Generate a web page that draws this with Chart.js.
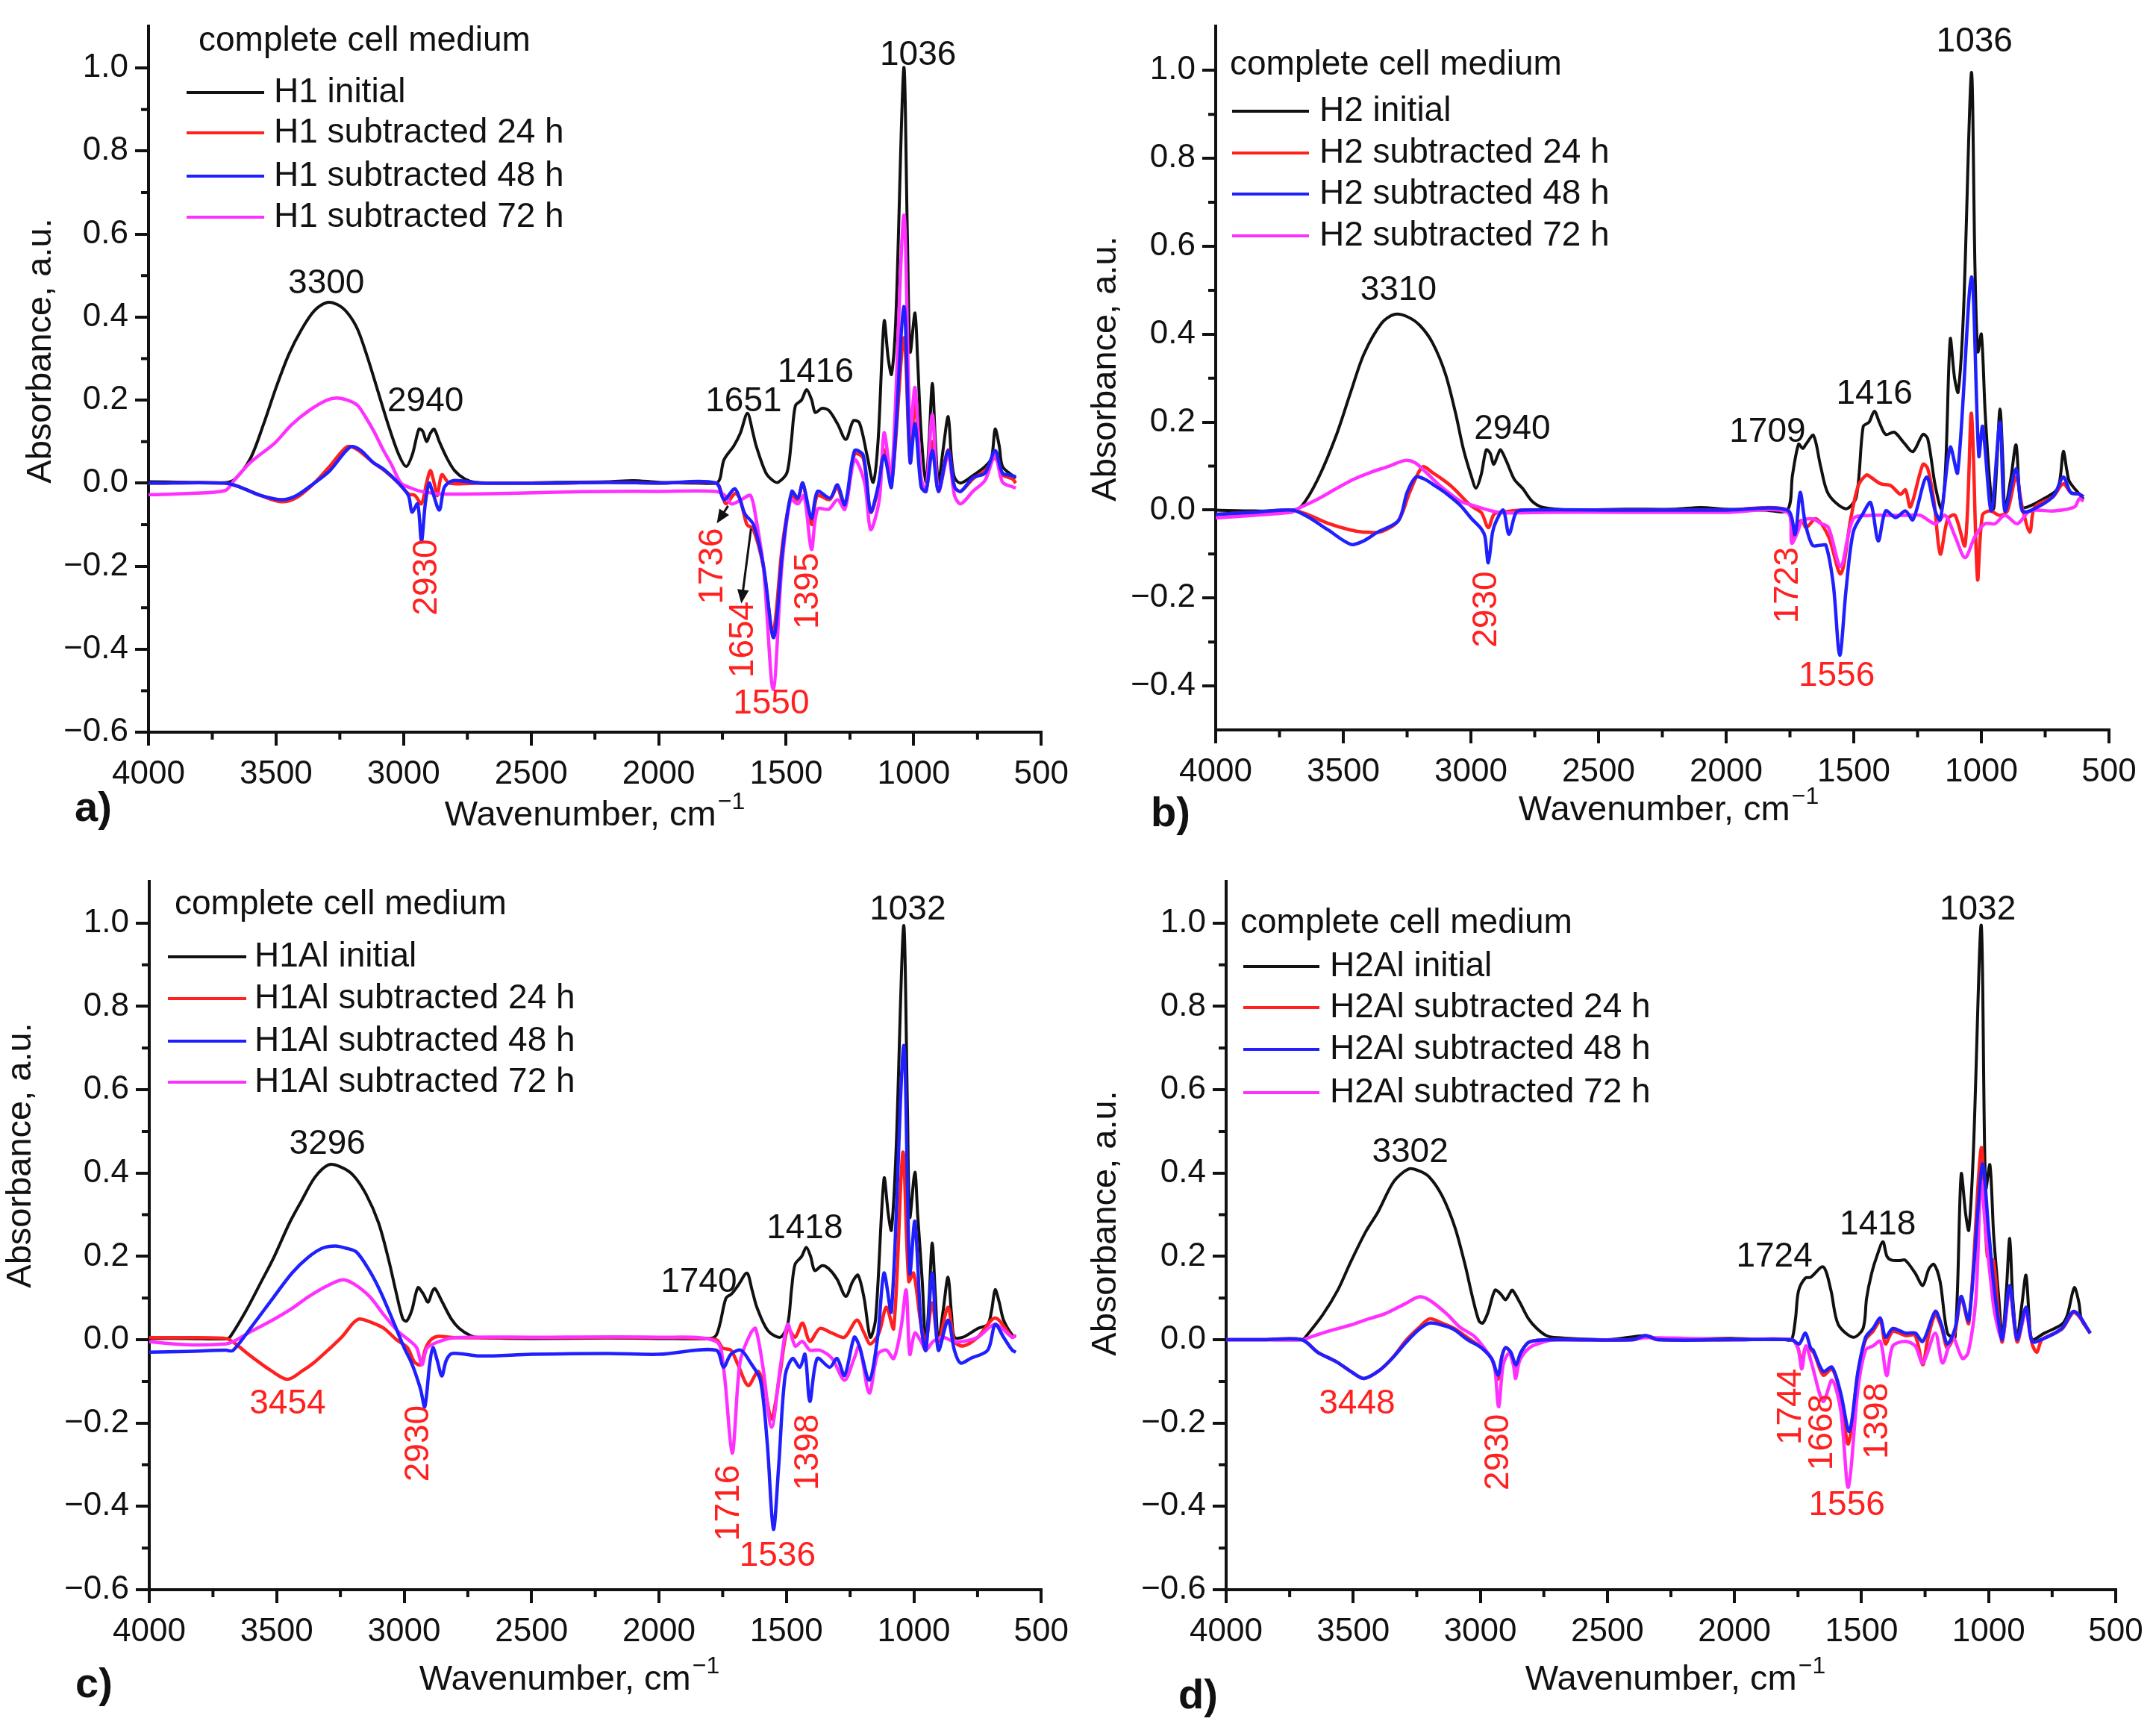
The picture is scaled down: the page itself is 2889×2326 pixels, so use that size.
<!DOCTYPE html>
<html>
<head>
<meta charset="utf-8">
<script src="https://cdn.jsdelivr.net/npm/chart.js@4.4.1/dist/chart.umd.min.js"></script>
<style>
  html, body { margin: 0; padding: 0; background: #fff; }
  body { width: 2889px; height: 2326px; position: relative; overflow: hidden; }
  .panel { position: absolute; }
  #pa { left: 0; top: 0; width: 1444px; height: 1140px; }
  #pb { left: 1444px; top: 0; width: 1445px; height: 1140px; }
  #pc { left: 0; top: 1140px; width: 1444px; height: 1186px; }
  #pd { left: 1444px; top: 1140px; width: 1445px; height: 1186px; }
</style>
</head>
<body>
<div class="panel" id="pa"><canvas id="ca"></canvas></div>
<div class="panel" id="pb"><canvas id="cb"></canvas></div>
<div class="panel" id="pc"><canvas id="cc"></canvas></div>
<div class="panel" id="pd"><canvas id="cd"></canvas></div>
<script>
// ---- axis ticks ----
const xMajor = [4000, 3500, 3000, 2500, 2000, 1500, 1000, 500];
const xMinor = [3750, 3250, 2750, 2250, 1750, 1250, 750];
const yMajor = [-0.6, -0.4, -0.2, 0.0, 0.2, 0.4, 0.6, 0.8, 1.0];
const yMajorB = [-0.4, -0.2, 0.0, 0.2, 0.4, 0.6, 0.8, 1.0];
const yMinor = [-0.5, -0.3, -0.1, 0.1, 0.3, 0.5, 0.7, 0.9];
const yMinorB = [-0.3, -0.1, 0.1, 0.3, 0.5, 0.7, 0.9];

// ---- series names ----
const namesA = ['H1 initial', 'H1 subtracted 24 h', 'H1 subtracted 48 h', 'H1 subtracted 72 h'];
const namesB = ['H2 initial', 'H2 subtracted 24 h', 'H2 subtracted 48 h', 'H2 subtracted 72 h'];
const namesC = ['H1Al initial', 'H1Al subtracted 24 h', 'H1Al subtracted 48 h', 'H1Al subtracted 72 h'];
const namesD = ['H2Al initial', 'H2Al subtracted 24 h', 'H2Al subtracted 48 h', 'H2Al subtracted 72 h'];

// ---- spectra: [wavenumber, absorbance] ----
const aInitial = [[4000,0.003],[3850,0.002],[3700,0.001],[3660,0.01],[3600,0.06],[3550,0.14],[3500,0.23],[3450,0.31],[3400,0.37],[3350,0.415],[3300,0.435],[3260,0.43],[3220,0.41],[3180,0.37],[3140,0.3],[3100,0.22],[3060,0.14],[3020,0.07],[2990,0.04],[2965,0.07],[2940,0.13],[2925,0.125],[2910,0.1],[2895,0.12],[2880,0.13],[2860,0.1],[2830,0.06],[2800,0.03],[2760,0.01],[2720,0.002],[2600,0.0],[2400,0.002],[2200,0.003],[2100,0.006],[2000,0.002],[1850,0.0],[1775,0.0],[1760,0.01],[1744,0.056],[1705,0.09],[1680,0.12],[1652,0.168],[1630,0.12],[1618,0.09],[1580,0.025],[1550,0.005],[1531,0.002],[1497,0.025],[1480,0.1],[1464,0.186],[1440,0.2],[1420,0.225],[1400,0.2],[1386,0.17],[1360,0.18],[1333,0.175],[1299,0.143],[1266,0.105],[1237,0.15],[1213,0.145],[1183,0.067],[1159,0.002],[1140,0.1],[1116,0.39],[1100,0.3],[1087,0.262],[1070,0.4],[1039,1.0],[1025,0.6],[1014,0.316],[995,0.41],[985,0.3],[971,0.121],[952,0.002],[940,0.1],[927,0.24],[915,0.1],[903,0.002],[885,0.08],[865,0.16],[852,0.06],[840,0.013],[816,0.0],[768,0.018],[720,0.04],[695,0.06],[681,0.13],[665,0.09],[652,0.04],[613,0.018],[600,0.012]];
const aSub24 = [[4000,0.0],[3700,0.0],[3640,-0.01],[3560,-0.03],[3480,-0.045],[3420,-0.035],[3350,0.0],[3290,0.04],[3220,0.088],[3180,0.08],[3120,0.05],[3075,0.03],[3020,0.0],[2981,-0.026],[2955,-0.03],[2930,-0.05],[2910,0.0],[2895,0.03],[2880,0.0],[2868,-0.03],[2850,0.02],[2820,0.0],[2700,0.0],[2400,0.0],[2200,0.002],[2000,0.0],[1775,0.0],[1750,-0.03],[1736,-0.05],[1700,-0.025],[1680,-0.04],[1654,-0.1],[1630,-0.11],[1590,-0.2],[1552,-0.36],[1515,-0.15],[1480,-0.03],[1455,-0.04],[1435,0.0],[1400,-0.1],[1378,-0.03],[1330,-0.04],[1300,-0.01],[1270,-0.06],[1232,0.07],[1198,0.06],[1169,-0.07],[1140,-0.015],[1116,0.08],[1087,0.0],[1039,0.35],[1014,0.05],[995,0.2],[971,0.0],[952,-0.02],[927,0.1],[903,-0.02],[865,0.08],[840,-0.01],[816,-0.02],[768,0.01],[720,0.03],[681,0.06],[652,0.02],[613,0.01],[600,0.0]];
const aSub48 = [[4000,0.0],[3700,0.0],[3640,-0.01],[3560,-0.03],[3477,-0.04],[3420,-0.03],[3350,0.0],[3289,0.03],[3209,0.087],[3170,0.08],[3120,0.05],[3075,0.032],[3020,0.0],[2981,-0.03],[2967,-0.07],[2945,-0.05],[2930,-0.14],[2915,-0.05],[2900,0.0],[2887,-0.02],[2860,-0.065],[2840,-0.01],[2806,0.006],[2700,0.0],[2400,0.0],[2200,0.002],[2000,0.0],[1775,0.0],[1744,-0.04],[1700,-0.014],[1662,-0.074],[1628,-0.1],[1589,-0.2],[1549,-0.372],[1512,-0.15],[1478,-0.02],[1454,-0.036],[1435,0.0],[1401,-0.085],[1377,-0.02],[1328,-0.036],[1299,-0.004],[1270,-0.052],[1232,0.078],[1198,0.067],[1169,-0.069],[1140,-0.009],[1116,0.067],[1087,-0.009],[1039,0.425],[1014,0.05],[995,0.143],[971,-0.009],[952,-0.02],[927,0.078],[903,-0.02],[865,0.078],[840,-0.009],[816,-0.02],[768,0.013],[720,0.024],[681,0.078],[652,0.024],[613,0.018],[600,0.015]];
const aSub72 = [[4000,-0.028],[3850,-0.025],[3700,-0.018],[3665,0.006],[3600,0.05],[3504,0.097],[3440,0.14],[3370,0.175],[3300,0.2],[3262,0.205],[3220,0.2],[3182,0.188],[3150,0.16],[3115,0.123],[3080,0.08],[3048,0.045],[3010,0.0],[2967,-0.013],[2930,-0.02],[2860,-0.026],[2700,-0.026],[2400,-0.022],[2200,-0.02],[2000,-0.02],[1775,-0.02],[1740,-0.03],[1715,-0.05],[1676,-0.04],[1640,-0.03],[1620,-0.08],[1589,-0.204],[1551,-0.497],[1517,-0.2],[1483,-0.04],[1454,-0.05],[1430,-0.03],[1401,-0.16],[1377,-0.063],[1333,-0.063],[1299,-0.04],[1270,-0.063],[1232,0.056],[1193,0.002],[1169,-0.112],[1135,-0.04],[1116,0.121],[1087,0.013],[1039,0.645],[1014,0.121],[995,0.23],[971,0.013],[952,-0.02],[927,0.165],[903,-0.02],[865,0.067],[840,-0.03],[816,-0.05],[768,-0.02],[720,0.007],[681,0.067],[652,0.002],[613,-0.009],[600,-0.012]];

const bInitial = [[4000,0.0],[3850,-0.002],[3700,0.0],[3662,0.01],[3600,0.07],[3527,0.171],[3470,0.27],[3419,0.355],[3350,0.425],[3300,0.445],[3250,0.44],[3200,0.42],[3150,0.38],[3100,0.31],[3060,0.22],[3030,0.14],[3000,0.08],[2980,0.05],[2960,0.08],[2940,0.137],[2925,0.13],[2911,0.104],[2895,0.125],[2884,0.137],[2860,0.11],[2830,0.07],[2797,0.049],[2760,0.02],[2716,0.006],[2600,0.0],[2400,0.002],[2200,0.002],[2100,0.006],[2000,0.002],[1850,0.0],[1760,0.0],[1740,0.08],[1716,0.15],[1700,0.14],[1687,0.15],[1658,0.17],[1630,0.1],[1599,0.036],[1531,0.003],[1490,0.03],[1463,0.19],[1440,0.2],[1419,0.225],[1400,0.2],[1375,0.172],[1341,0.177],[1302,0.152],[1268,0.133],[1229,0.172],[1210,0.162],[1181,0.056],[1156,0.003],[1140,0.1],[1122,0.389],[1105,0.3],[1091,0.268],[1070,0.45],[1039,0.995],[1025,0.55],[1014,0.36],[1000,0.4],[985,0.22],[966,0.056],[952,0.003],[940,0.1],[927,0.23],[915,0.1],[908,0.003],[885,0.07],[864,0.148],[845,0.007],[820,0.007],[752,0.027],[700,0.05],[679,0.133],[665,0.09],[655,0.065],[616,0.036],[600,0.025]];
const bSub24 = [[4000,-0.01],[3850,-0.005],[3700,0.0],[3640,-0.01],[3560,-0.03],[3473,-0.045],[3420,-0.05],[3351,-0.049],[3284,-0.024],[3240,0.04],[3190,0.098],[3150,0.085],[3100,0.065],[3067,0.049],[3000,0.01],[2959,-0.006],[2932,-0.04],[2910,-0.01],[2880,-0.005],[2800,0.0],[2400,0.0],[2000,0.0],[1760,0.0],[1743,-0.065],[1720,-0.03],[1702,-0.024],[1687,-0.04],[1648,-0.02],[1599,-0.06],[1551,-0.145],[1512,-0.02],[1482,0.056],[1450,0.08],[1434,0.075],[1395,0.06],[1356,0.056],[1317,0.036],[1297,0.046],[1278,0.007],[1229,0.104],[1210,0.094],[1185,0.017],[1161,-0.1],[1132,-0.02],[1103,-0.012],[1064,-0.08],[1039,0.22],[1015,-0.157],[996,-0.012],[966,-0.002],[927,-0.012],[898,-0.002],[864,0.075],[840,0.007],[810,-0.05],[791,0.007],[720,0.03],[679,0.06],[650,0.04],[616,0.036],[600,0.03]];
const bSub48 = [[4000,-0.01],[3850,-0.005],[3700,0.0],[3640,-0.015],[3560,-0.045],[3470,-0.078],[3420,-0.07],[3365,-0.05],[3284,-0.024],[3250,0.04],[3216,0.075],[3180,0.07],[3140,0.055],[3095,0.037],[3040,0.01],[3000,-0.018],[2959,-0.043],[2945,-0.06],[2932,-0.12],[2915,-0.05],[2900,-0.024],[2873,0.0],[2851,-0.055],[2824,-0.006],[2800,0.0],[2400,0.0],[2000,0.0],[1760,0.0],[1730,-0.055],[1710,0.04],[1690,-0.03],[1662,-0.08],[1630,-0.08],[1609,-0.08],[1580,-0.17],[1555,-0.33],[1530,-0.18],[1502,-0.05],[1463,-0.007],[1434,0.017],[1404,-0.07],[1375,-0.002],[1336,-0.017],[1297,-0.002],[1268,-0.022],[1215,0.075],[1181,-0.002],[1161,-0.022],[1122,0.143],[1093,0.085],[1039,0.53],[1010,0.123],[995,0.19],[961,-0.002],[927,0.2],[908,-0.002],[864,0.094],[840,-0.002],[810,-0.002],[720,0.03],[679,0.075],[650,0.04],[616,0.036],[600,0.03]];
const bSub72 = [[4000,-0.018],[3850,-0.012],[3700,-0.005],[3689,0.0],[3600,0.025],[3527,0.049],[3460,0.07],[3392,0.086],[3320,0.1],[3257,0.113],[3220,0.108],[3176,0.086],[3130,0.06],[3081,0.037],[3040,0.02],[3000,0.012],[2932,0.0],[2878,-0.006],[2700,-0.005],[2400,-0.005],[2000,-0.005],[1760,-0.005],[1743,-0.075],[1720,-0.05],[1702,-0.024],[1660,-0.02],[1630,-0.03],[1599,-0.04],[1551,-0.128],[1502,-0.02],[1434,-0.012],[1375,-0.012],[1297,-0.012],[1239,-0.012],[1181,-0.031],[1142,-0.012],[1103,-0.06],[1064,-0.108],[1025,-0.06],[986,-0.031],[947,-0.031],[908,-0.012],[859,-0.031],[810,-0.002],[713,-0.002],[635,0.007],[616,0.026],[600,0.02]];

const cInitial = [[4000,0.003],[3850,0.003],[3700,0.002],[3685,0.005],[3620,0.07],[3560,0.14],[3511,0.198],[3450,0.28],[3403,0.333],[3350,0.39],[3296,0.42],[3250,0.415],[3200,0.395],[3150,0.35],[3100,0.28],[3060,0.19],[3030,0.11],[3005,0.05],[2990,0.045],[2970,0.07],[2946,0.125],[2925,0.11],[2906,0.09],[2890,0.115],[2879,0.123],[2850,0.09],[2815,0.05],[2785,0.028],[2740,0.01],[2704,0.005],[2500,0.003],[2200,0.004],[2000,0.003],[1800,0.003],[1776,0.01],[1760,0.04],[1737,0.1],[1715,0.11],[1690,0.13],[1655,0.16],[1635,0.12],[1616,0.078],[1573,0.022],[1524,0.006],[1495,0.037],[1480,0.12],[1466,0.181],[1440,0.2],[1422,0.222],[1405,0.2],[1389,0.166],[1360,0.178],[1335,0.171],[1301,0.145],[1267,0.104],[1240,0.14],[1219,0.155],[1195,0.099],[1171,0.006],[1150,0.05],[1117,0.387],[1100,0.3],[1088,0.263],[1070,0.45],[1040,0.994],[1025,0.55],[1016,0.294],[996,0.402],[985,0.3],[967,0.14],[953,-0.015],[940,0.1],[928,0.232],[915,0.1],[904,-0.004],[885,0.07],[866,0.15],[852,0.06],[841,0.006],[807,0.006],[749,0.027],[710,0.037],[695,0.07],[681,0.12],[665,0.09],[648,0.047],[614,0.011],[600,0.008]];
const cSub24 = [[4000,0.005],[3850,0.005],[3700,0.003],[3672,-0.005],[3600,-0.04],[3520,-0.075],[3457,-0.095],[3400,-0.075],[3350,-0.053],[3290,-0.02],[3242,0.008],[3200,0.04],[3175,0.05],[3130,0.042],[3081,0.028],[3030,0.0],[2987,-0.019],[2960,-0.053],[2935,-0.06],[2915,-0.02],[2895,0.0],[2866,0.008],[2800,0.005],[2500,0.005],[2000,0.005],[1776,0.0],[1750,-0.02],[1718,-0.025],[1690,-0.06],[1650,-0.11],[1611,-0.076],[1585,-0.12],[1558,-0.19],[1525,-0.08],[1495,0.027],[1466,0.006],[1437,0.04],[1408,-0.004],[1369,0.027],[1321,0.016],[1272,0.006],[1224,0.047],[1195,0.016],[1171,-0.01],[1137,0.016],[1108,0.078],[1079,0.027],[1043,0.45],[1020,0.14],[1001,0.16],[972,0.037],[953,-0.004],[928,0.089],[904,-0.004],[866,0.078],[841,-0.004],[807,-0.015],[749,0.006],[681,0.052],[614,0.006],[600,0.01]];
const cSub48 = [[4000,-0.03],[3850,-0.028],[3700,-0.025],[3672,-0.026],[3600,0.03],[3511,0.103],[3440,0.16],[3376,0.198],[3320,0.22],[3269,0.225],[3230,0.22],[3188,0.211],[3140,0.17],[3094,0.117],[3040,0.04],[3000,-0.019],[2975,-0.05],[2960,-0.073],[2935,-0.12],[2919,-0.161],[2900,-0.06],[2887,-0.019],[2870,-0.05],[2852,-0.087],[2835,-0.05],[2812,-0.033],[2704,-0.039],[2500,-0.035],[2200,-0.033],[2000,-0.035],[1776,-0.025],[1747,-0.066],[1718,-0.035],[1679,-0.025],[1640,-0.056],[1602,-0.097],[1575,-0.25],[1551,-0.455],[1530,-0.3],[1505,-0.086],[1476,-0.045],[1447,-0.066],[1427,-0.035],[1408,-0.148],[1379,-0.045],[1330,-0.066],[1301,-0.045],[1272,-0.086],[1234,0.006],[1214,-0.015],[1175,-0.097],[1142,0.006],[1117,0.16],[1088,0.068],[1040,0.706],[1016,0.16],[996,0.284],[972,0.037],[953,-0.025],[928,0.16],[904,-0.025],[866,0.047],[841,-0.025],[817,-0.056],[778,-0.045],[710,-0.025],[681,0.037],[648,0.006],[614,-0.025],[600,-0.03]];
const cSub72 = [[4000,-0.005],[3850,-0.012],[3700,-0.01],[3672,-0.005],[3600,0.02],[3511,0.049],[3440,0.075],[3376,0.103],[3300,0.13],[3242,0.144],[3200,0.135],[3134,0.103],[3080,0.06],[3027,0.022],[2973,-0.005],[2950,-0.02],[2930,-0.06],[2910,-0.02],[2866,-0.005],[2800,0.005],[2500,0.006],[2000,0.006],[1776,-0.004],[1747,-0.066],[1713,-0.272],[1690,-0.1],[1679,-0.045],[1640,0.016],[1621,0.027],[1592,-0.066],[1558,-0.21],[1524,-0.066],[1495,0.037],[1466,-0.015],[1437,-0.004],[1408,-0.025],[1369,-0.025],[1321,-0.045],[1272,-0.097],[1234,-0.045],[1214,-0.015],[1175,-0.128],[1142,-0.035],[1108,-0.025],[1079,-0.045],[1050,0.03],[1030,0.119],[1016,-0.035],[996,0.016],[972,-0.004],[953,-0.025],[924,-0.004],[885,0.006],[846,-0.004],[807,-0.004],[749,0.006],[681,0.037],[614,0.006],[600,0.01]];

const dInitial = [[4000,0.0],[3850,0.0],[3700,0.0],[3690,0.005],[3620,0.06],[3560,0.12],[3512,0.184],[3450,0.26],[3403,0.306],[3340,0.38],[3281,0.41],[3240,0.405],[3200,0.39],[3150,0.345],[3100,0.27],[3060,0.18],[3030,0.1],[3005,0.045],[2990,0.04],[2970,0.065],[2942,0.119],[2920,0.11],[2901,0.096],[2885,0.11],[2874,0.119],[2845,0.09],[2810,0.05],[2779,0.028],[2740,0.01],[2698,0.005],[2500,0.0],[2350,0.01],[2300,0.002],[2000,0.003],[1800,0.0],[1775,0.0],[1760,0.05],[1748,0.117],[1721,0.148],[1700,0.15],[1651,0.175],[1621,0.12],[1592,0.037],[1533,0.006],[1494,0.027],[1480,0.1],[1460,0.16],[1440,0.2],[1416,0.235],[1400,0.2],[1382,0.191],[1350,0.19],[1328,0.191],[1289,0.16],[1259,0.13],[1235,0.17],[1215,0.181],[1191,0.14],[1162,0.016],[1132,0.006],[1108,0.397],[1090,0.3],[1078,0.263],[1060,0.45],[1029,0.995],[1012,0.36],[995,0.42],[980,0.25],[960,0.1],[946,0.006],[930,0.12],[917,0.243],[905,0.1],[888,0.006],[870,0.08],[853,0.155],[840,0.05],[829,0.001],[780,0.016],[712,0.037],[690,0.06],[663,0.125],[645,0.09],[634,0.047],[600,0.016]];
const dSub24 = [[4000,0.0],[3850,0.0],[3702,0.0],[3640,-0.03],[3566,-0.053],[3500,-0.08],[3457,-0.093],[3400,-0.075],[3349,-0.046],[3290,0.0],[3240,0.03],[3200,0.05],[3150,0.04],[3105,0.028],[3050,0.005],[2996,-0.019],[2955,-0.046],[2930,-0.095],[2915,-0.04],[2901,-0.019],[2880,-0.03],[2860,-0.065],[2840,-0.03],[2806,-0.005],[2700,0.0],[2400,0.0],[2350,0.008],[2300,0.0],[2000,0.0],[1775,0.0],[1750,-0.02],[1735,-0.06],[1721,-0.02],[1690,-0.03],[1651,-0.085],[1616,-0.07],[1582,-0.135],[1552,-0.25],[1514,-0.08],[1484,0.0],[1455,0.02],[1426,0.045],[1406,-0.01],[1377,0.02],[1328,0.01],[1289,0.01],[1259,-0.06],[1240,0.0],[1210,0.06],[1186,0.03],[1162,-0.02],[1132,0.02],[1108,0.1],[1078,0.04],[1029,0.46],[1005,0.2],[981,0.19],[960,0.05],[946,-0.005],[917,0.125],[888,-0.005],[853,0.07],[829,-0.01],[810,-0.03],[790,0.0],[712,0.025],[663,0.065],[600,0.015]];
const dSub48 = [[4000,0.0],[3850,0.0],[3702,0.0],[3640,-0.03],[3566,-0.053],[3500,-0.08],[3457,-0.093],[3400,-0.075],[3349,-0.046],[3290,-0.005],[3240,0.025],[3200,0.04],[3150,0.035],[3105,0.025],[3050,0.0],[2996,-0.019],[2955,-0.046],[2930,-0.085],[2915,-0.04],[2901,-0.019],[2880,-0.03],[2860,-0.06],[2840,-0.03],[2806,-0.005],[2700,0.0],[2400,0.0],[2350,0.01],[2300,0.0],[2000,0.0],[1775,0.0],[1745,-0.01],[1721,0.016],[1700,-0.02],[1690,-0.025],[1651,-0.076],[1616,-0.066],[1582,-0.128],[1548,-0.22],[1514,-0.076],[1484,0.006],[1455,0.027],[1426,0.052],[1406,0.006],[1377,0.027],[1328,0.016],[1289,0.016],[1259,-0.004],[1210,0.068],[1186,0.037],[1162,-0.01],[1132,0.027],[1108,0.104],[1078,0.047],[1025,0.42],[1000,0.263],[981,0.14],[960,0.04],[946,0.001],[917,0.13],[888,0.001],[853,0.078],[829,-0.004],[790,0.001],[712,0.027],[663,0.068],[600,0.016]];
const dSub72 = [[4000,0.0],[3850,0.0],[3700,0.0],[3675,0.005],[3600,0.02],[3512,0.035],[3440,0.05],[3376,0.062],[3300,0.085],[3240,0.103],[3200,0.095],[3132,0.062],[3080,0.03],[3023,0.008],[2969,-0.033],[2945,-0.06],[2928,-0.161],[2910,-0.06],[2888,-0.033],[2870,-0.06],[2861,-0.093],[2845,-0.05],[2806,-0.019],[2750,-0.005],[2700,0.0],[2400,0.0],[2350,0.005],[2000,0.0],[1775,0.0],[1750,-0.02],[1735,-0.07],[1719,-0.015],[1695,-0.06],[1651,-0.148],[1616,-0.097],[1582,-0.169],[1552,-0.354],[1514,-0.117],[1484,-0.025],[1455,-0.015],[1426,-0.004],[1401,-0.086],[1377,-0.015],[1328,-0.004],[1289,-0.015],[1259,-0.056],[1210,0.016],[1181,-0.056],[1142,0.006],[1103,-0.045],[1080,-0.03],[1050,0.1],[1030,0.38],[1010,0.25],[995,0.16],[975,0.06],[946,0.001],[917,0.12],[888,0.001],[853,0.068],[829,-0.004],[790,0.001],[712,0.027],[663,0.068],[600,0.016]];

// ---- peak labels (wavenumber, absorbance where the text sits) ----
const BLK = '#111111', RED = '#ff2020';
const aLabels = [
  {t:'3300', x:3303, y:0.48, c:BLK}, {t:'2940', x:2914, y:0.195, c:BLK},
  {t:'1651', x:1667, y:0.195, c:BLK}, {t:'1416', x:1385, y:0.266, c:BLK},
  {t:'1036', x:983, y:1.03, c:BLK},
  {t:'2930', x:2908, y:-0.227, c:RED, r:1}, {t:'1736', x:1787, y:-0.2, c:RED, r:1},
  {t:'1654', x:1667, y:-0.377, c:RED, r:1}, {t:'1395', x:1412, y:-0.26, c:RED, r:1},
  {t:'1550', x:1559, y:-0.532, c:RED}
];
const bLabels = [
  {t:'3310', x:3284, y:0.5, c:BLK}, {t:'2940', x:2838, y:0.183, c:BLK},
  {t:'1709', x:1838, y:0.177, c:BLK}, {t:'1416', x:1419, y:0.263, c:BLK},
  {t:'1036', x:1027, y:1.064, c:BLK},
  {t:'2930', x:2938, y:-0.226, c:RED, r:1}, {t:'1723', x:1757, y:-0.171, c:RED, r:1},
  {t:'1556', x:1567, y:-0.379, c:RED}
];
const cLabels = [
  {t:'3296', x:3301, y:0.469, c:BLK}, {t:'1740', x:1844, y:0.137, c:BLK},
  {t:'1418', x:1428, y:0.266, c:BLK}, {t:'1032', x:1024, y:1.031, c:BLK},
  {t:'3454', x:3457, y:-0.154, c:RED},
  {t:'2930', x:2941, y:-0.249, c:RED, r:1}, {t:'1716', x:1723, y:-0.392, c:RED, r:1},
  {t:'1398', x:1414, y:-0.27, c:RED, r:1}, {t:'1536', x:1535, y:-0.52, c:RED}
];
const dLabels = [
  {t:'3302', x:3276, y:0.449, c:BLK}, {t:'1724', x:1843, y:0.198, c:BLK},
  {t:'1418', x:1436, y:0.276, c:BLK}, {t:'1032', x:1043, y:1.031, c:BLK},
  {t:'3448', x:3485, y:-0.154, c:RED},
  {t:'2930', x:2928, y:-0.27, c:RED, r:1}, {t:'1744', x:1775, y:-0.161, c:RED, r:1},
  {t:'1668', x:1653, y:-0.222, c:RED, r:1}, {t:'1398', x:1436, y:-0.195, c:RED, r:1},
  {t:'1556', x:1558, y:-0.398, c:RED}
];
const aArrows = [[1728, -0.055, 1772, -0.097], [1638, -0.11, 1676, -0.29]];

const lineColors = ['#111111', '#ff2020', '#2020ff', '#ff30ff'];
const FONT = '"Liberation Sans", Arial, sans-serif';
Chart.defaults.font.family = FONT;
Chart.defaults.color = '#111';

const panelDeco = {
  id: 'panelDeco',
  afterDraw(chart, args, o) {
    const { ctx, chartArea: ca } = chart;
    const x = chart.scales.x, y = chart.scales.y;
    ctx.save();
    // minor ticks
    ctx.strokeStyle = '#111';
    ctx.lineWidth = 4;
    ctx.beginPath();
    xMinor.forEach(v => {
      const px = x.getPixelForValue(v);
      ctx.moveTo(px, ca.bottom); ctx.lineTo(px, ca.bottom + 10);
    });
    o.yMinor.forEach(v => {
      const py = y.getPixelForValue(v);
      ctx.moveTo(ca.left, py); ctx.lineTo(ca.left - 10, py);
    });
    ctx.stroke();

    // legend
    ctx.textBaseline = 'middle';
    ctx.textAlign = 'left';
    ctx.font = '46px ' + FONT;
    ctx.fillStyle = '#111';
    ctx.fillText('complete cell medium', o.legend.hx, o.legend.hy);
    chart.data.datasets.forEach((ds, i) => {
      const ry = o.legend.rows[i];
      ctx.strokeStyle = ds.borderColor;
      ctx.lineWidth = 4;
      ctx.beginPath();
      ctx.moveTo(o.legend.lx0, ry); ctx.lineTo(o.legend.lx1, ry);
      ctx.stroke();
      ctx.fillStyle = '#111';
      ctx.fillText(ds.label, o.legend.tx, ry);
    });

    // peak labels
    ctx.font = '46px ' + FONT;
    ctx.textAlign = 'center';
    o.labels.forEach(l => {
      ctx.save();
      ctx.translate(x.getPixelForValue(l.x), y.getPixelForValue(l.y));
      if (l.r) ctx.rotate(-Math.PI / 2);
      ctx.fillStyle = l.c;
      ctx.fillText(l.t, 0, 0);
      ctx.restore();
    });

    // arrows
    (o.arrows || []).forEach(a => {
      const x0 = x.getPixelForValue(a[0]), y0 = y.getPixelForValue(a[1]);
      const x1 = x.getPixelForValue(a[2]), y1 = y.getPixelForValue(a[3]);
      const ang = Math.atan2(y1 - y0, x1 - x0);
      ctx.strokeStyle = '#111'; ctx.fillStyle = '#111'; ctx.lineWidth = 3;
      ctx.beginPath(); ctx.moveTo(x0, y0);
      ctx.lineTo(x1 - 14 * Math.cos(ang), y1 - 14 * Math.sin(ang)); ctx.stroke();
      ctx.beginPath();
      ctx.moveTo(x1, y1);
      ctx.lineTo(x1 - 20 * Math.cos(ang - 0.4), y1 - 20 * Math.sin(ang - 0.4));
      ctx.lineTo(x1 - 20 * Math.cos(ang + 0.4), y1 - 20 * Math.sin(ang + 0.4));
      ctx.closePath(); ctx.fill();
    });

    // axis titles
    ctx.fillStyle = '#111';
    ctx.font = '47px ' + FONT;
    const main = 'Wavenumber, cm';
    const mw = ctx.measureText(main).width;
    ctx.font = '32px ' + FONT;
    const sw = ctx.measureText('\u22121').width;
    const sx = o.xt.x - (mw + sw) / 2;
    ctx.textAlign = 'left';
    ctx.font = '47px ' + FONT;
    ctx.fillText(main, sx, o.xt.y);
    ctx.font = '32px ' + FONT;
    ctx.fillText('\u22121', sx + mw + 2, o.xt.y - 18);

    ctx.save();
    ctx.translate(o.yt.x, o.yt.y);
    ctx.rotate(-Math.PI / 2);
    ctx.textAlign = 'center';
    ctx.font = '47px ' + FONT;
    ctx.fillText('Absorbance, a.u.', 0, 0);
    ctx.restore();

    // panel letter
    ctx.textAlign = 'left';
    ctx.font = 'bold 56px ' + FONT;
    ctx.fillText(o.letter.t, o.letter.x, o.letter.y);
    ctx.restore();
  }
};

function toPts(arr) { return arr.map(p => ({ x: p[0], y: p[1] })); }

function makeChart(id, names, series, yMin, yTicks, deco, box) {
  const order = [4, 3, 1, 2];
  new Chart(document.getElementById(id), {
    type: 'line',
    data: {
      datasets: series.map((s, i) => ({
        label: names[i],
        data: toPts(s),
        borderColor: lineColors[i],
        borderWidth: i === 0 ? 4 : 4.5,
        pointRadius: 0,
        tension: 0.3,
        fill: false,
        order: order[i]
      }))
    },
    options: {
      responsive: true,
      maintainAspectRatio: false,
      animation: false,
      events: [],
      layout: { padding: { left: 0, top: box.top, right: box.right, bottom: 0 } },
      plugins: { legend: { display: false }, tooltip: { enabled: false }, panelDeco: deco },
      scales: {
        x: {
          type: 'linear', min: 500, max: 4000, reverse: true,
          afterBuildTicks: s => { s.ticks = xMajor.map(v => ({ value: v })); },
          afterFit: s => { s.height = box.xh; },
          ticks: { font: { size: 44 }, color: '#111', padding: 12, maxRotation: 0, autoSkip: false,
                   callback: v => String(v) },
          grid: { drawOnChartArea: false, drawTicks: true, tickLength: 18, color: '#111', lineWidth: 4 },
          border: { display: true, color: '#111', width: 4 }
        },
        y: {
          type: 'linear', min: yMin, max: 1.1,
          afterBuildTicks: s => { s.ticks = yTicks.map(v => ({ value: v })); },
          afterFit: s => { s.width = box.yw; },
          ticks: {
            font: { size: 44 }, color: '#111', padding: 9, autoSkip: false,
            callback: v => v.toFixed(1).replace('-', '\u2212')
          },
          grid: { drawOnChartArea: false, drawTicks: true, tickLength: 18, color: '#111', lineWidth: 4 },
          border: { display: true, color: '#111', width: 4 }
        }
      }
    },
    plugins: [panelDeco]
  });
}

makeChart('ca', namesA, [aInitial, aSub24, aSub48, aSub72], -0.6, yMajor, {
  yMinor: yMinor, labels: aLabels, arrows: aArrows,
  legend: { hx: 266, hy: 55, rows: [124, 178, 236, 291], lx0: 250, lx1: 354, tx: 367 },
  xt: { x: 796, y: 1093 }, yt: { x: 55, y: 470 }, letter: { t: 'a)', x: 100, y: 1085 }
}, { top: 29, right: 48, xh: 159, yw: 199 });

makeChart('cb', namesB, [bInitial, bSub24, bSub48, bSub72], -0.5, yMajorB, {
  yMinor: yMinorB, labels: bLabels,
  legend: { hx: 204, hy: 87, rows: [149, 205, 260, 316], lx0: 207, lx1: 310, tx: 324 },
  xt: { x: 791, y: 1086 }, yt: { x: 38, y: 494 }, letter: { t: 'b)', x: 98, y: 1092 }
}, { top: 29, right: 63, xh: 162, yw: 185 });

makeChart('cc', namesC, [cInitial, cSub24, cSub48, cSub72], -0.6, yMajor, {
  yMinor: yMinor, labels: cLabels,
  legend: { hx: 234, hy: 72, rows: [142, 198, 255, 310], lx0: 225, lx1: 330, tx: 341 },
  xt: { x: 762, y: 1111 }, yt: { x: 28, y: 408 }, letter: { t: 'c)', x: 101, y: 1119 }
}, { top: 41, right: 48, xh: 196, yw: 200 });

makeChart('cd', namesD, [dInitial, dSub24, dSub48, dSub72], -0.6, yMajor, {
  yMinor: yMinor, labels: dLabels,
  legend: { hx: 218, hy: 97, rows: [155, 210, 266, 324], lx0: 222, lx1: 324, tx: 338 },
  xt: { x: 800, y: 1111 }, yt: { x: 38, y: 499 }, letter: { t: 'd)', x: 135, y: 1134 }
}, { top: 41, right: 54, xh: 196, yw: 199 });
</script>
</body>
</html>
